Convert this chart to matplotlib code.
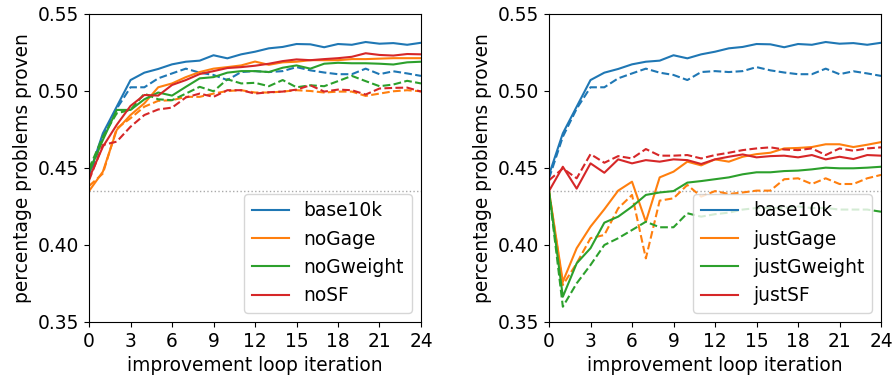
import matplotlib
matplotlib.use("Agg")
import matplotlib.pyplot as plt
import numpy as np

iters = list(range(25))
baseline = 0.435

base_solid = [0.4455, 0.4725, 0.4898, 0.5071, 0.5119, 0.5143, 0.5173, 0.5190, 0.5197, 0.5232,
              0.5212, 0.5238, 0.5255, 0.5277, 0.5286, 0.5305, 0.5303, 0.5284, 0.5305, 0.5300,
              0.5318, 0.5307, 0.5311, 0.5300, 0.5313]
base_dashed = [0.4432, 0.4703, 0.4885, 0.5024, 0.5024, 0.5082, 0.5114, 0.5145, 0.5119, 0.5104,
               0.5071, 0.5123, 0.5129, 0.5123, 0.5129, 0.5155, 0.5134, 0.5120, 0.5109, 0.5109,
               0.5145, 0.5109, 0.5128, 0.5114, 0.5098]

noGage_solid = [0.4350, 0.4476, 0.4747, 0.4844, 0.4920, 0.5024, 0.5049, 0.5090, 0.5123, 0.5145,
                0.5155, 0.5166, 0.5191, 0.5170, 0.5186, 0.5190, 0.5200, 0.5200, 0.5200, 0.5207,
                0.5207, 0.5210, 0.5213, 0.5213, 0.5213]
noGage_dashed = [0.4383, 0.4464, 0.4757, 0.4823, 0.4898, 0.4936, 0.4940, 0.4962, 0.4962, 0.4983,
                 0.5000, 0.5005, 0.4990, 0.4990, 0.4996, 0.5005, 0.5000, 0.4990, 0.4996, 0.4996,
                 0.4968, 0.4983, 0.4998, 0.5005, 0.4998]
noGweight_solid = [0.4474, 0.4682, 0.4877, 0.4877, 0.4946, 0.4990, 0.4970, 0.5027, 0.5082, 0.5090,
                   0.5119, 0.5129, 0.5129, 0.5123, 0.5151, 0.5166, 0.5145, 0.5177, 0.5183, 0.5180,
                   0.5180, 0.5177, 0.5172, 0.5186, 0.5190]
noGweight_dashed = [0.4496, 0.4703, 0.4855, 0.4877, 0.4983, 0.4946, 0.4940, 0.4983, 0.5027, 0.4998,
                    0.5076, 0.5049, 0.5053, 0.5031, 0.5071, 0.5024, 0.5037, 0.5031, 0.5064, 0.5098,
                    0.5064, 0.5031, 0.5042, 0.5066, 0.5049]
noSF_solid = [0.4432, 0.4638, 0.4780, 0.4903, 0.4974, 0.4970, 0.5039, 0.5071, 0.5110, 0.5129,
              0.5149, 0.5155, 0.5164, 0.5177, 0.5194, 0.5205, 0.5200, 0.5207, 0.5213, 0.5222,
              0.5245, 0.5234, 0.5230, 0.5240, 0.5238]
noSF_dashed = [0.4420, 0.4649, 0.4671, 0.4768, 0.4844, 0.4880, 0.4892, 0.4958, 0.4983, 0.4962,
               0.5005, 0.5005, 0.4983, 0.4992, 0.4996, 0.5009, 0.5037, 0.4996, 0.5009, 0.5005,
               0.4977, 0.5016, 0.5020, 0.5022, 0.4996]

justGage_solid = [0.4350, 0.3762, 0.3979, 0.4119, 0.4232, 0.4353, 0.4411, 0.4151, 0.4439, 0.4476,
                  0.4541, 0.4517, 0.4556, 0.4541, 0.4573, 0.4590, 0.4599, 0.4627, 0.4630, 0.4636,
                  0.4654, 0.4654, 0.4636, 0.4651, 0.4668]
justGage_dashed = [0.4350, 0.3740, 0.3881, 0.4044, 0.4065, 0.4238, 0.4325, 0.3913, 0.4288, 0.4303,
                   0.4390, 0.4314, 0.4350, 0.4331, 0.4341, 0.4353, 0.4353, 0.4427, 0.4433, 0.4396,
                   0.4433, 0.4396, 0.4396, 0.4433, 0.4455]
justGweight_solid = [0.4350, 0.3664, 0.3881, 0.3979, 0.4145, 0.4184, 0.4249, 0.4325, 0.4341, 0.4350,
                     0.4405, 0.4415, 0.4427, 0.4439, 0.4459, 0.4472, 0.4472, 0.4480, 0.4483, 0.4491,
                     0.4502, 0.4498, 0.4498, 0.4502, 0.4508]
justGweight_dashed = [0.4350, 0.3599, 0.3751, 0.3870, 0.4000, 0.4044, 0.4097, 0.4151, 0.4115, 0.4115,
                      0.4206, 0.4184, 0.4200, 0.4210, 0.4230, 0.4240, 0.4240, 0.4240, 0.4250, 0.4240,
                      0.4240, 0.4230, 0.4230, 0.4230, 0.4216]
justSF_solid = [0.4350, 0.4508, 0.4366, 0.4530, 0.4469, 0.4556, 0.4530, 0.4551, 0.4541, 0.4556,
                0.4551, 0.4526, 0.4556, 0.4573, 0.4588, 0.4569, 0.4577, 0.4580, 0.4569, 0.4584,
                0.4556, 0.4573, 0.4558, 0.4584, 0.4580]
justSF_dashed = [0.4420, 0.4497, 0.4433, 0.4590, 0.4534, 0.4577, 0.4562, 0.4623, 0.4580, 0.4580,
                 0.4584, 0.4562, 0.4584, 0.4599, 0.4616, 0.4627, 0.4634, 0.4620, 0.4616, 0.4627,
                 0.4584, 0.4627, 0.4612, 0.4627, 0.4634]

left_labels = ["base10k", "noGage", "noGweight", "noSF"]
right_labels = ["base10k", "justGage", "justGweight", "justSF"]
colors = ["#1f77b4", "#ff7f0e", "#2ca02c", "#d62728"]

left_solid = [base_solid, noGage_solid, noGweight_solid, noSF_solid]
left_dashed = [base_dashed, noGage_dashed, noGweight_dashed, noSF_dashed]
right_solid = [base_solid, justGage_solid, justGweight_solid, justSF_solid]
right_dashed = [base_dashed, justGage_dashed, justGweight_dashed, justSF_dashed]

plt.rcParams['font.size'] = 13.4
fig = plt.figure(figsize=(8.94, 3.81), dpi=100)
ax1 = fig.add_axes([0.0996, 0.1549, 0.3713, 0.8084])
ax2 = fig.add_axes([0.6141, 0.1549, 0.3714, 0.8084])

for ax, sol, das, labs in [(ax1, left_solid, left_dashed, left_labels),
                           (ax2, right_solid, right_dashed, right_labels)]:
    ax.axhline(baseline, color="#aaaaaa", linestyle=":", linewidth=1)
    for s, d, lab, c in zip(sol, das, labs, colors):
        ax.plot(iters, s, color=c, linestyle="-", label=lab, linewidth=1.5)
        ax.plot(iters, d, color=c, linestyle="--", linewidth=1.5)
    ax.set_xlim(0, 24)
    ax.set_ylim(0.35, 0.55)
    ax.set_xticks(range(0, 25, 3))
    ax.set_yticks([0.35, 0.40, 0.45, 0.50, 0.55])
    ax.set_xlabel("improvement loop iteration")
    ax.set_ylabel("percentage problems proven")
    ax.legend(loc="lower right")

fig.savefig("out.png", dpi=100)
